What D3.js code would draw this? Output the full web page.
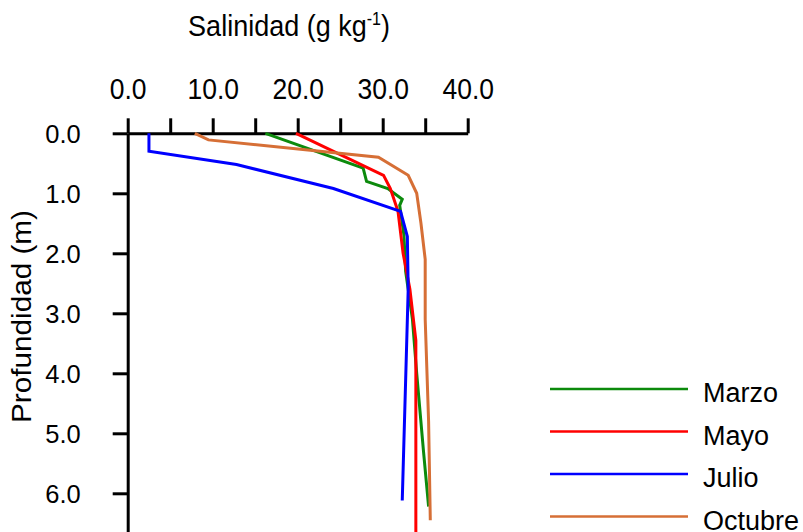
<!DOCTYPE html>
<html>
<head>
<meta charset="utf-8">
<script src="https://cdn.jsdelivr.net/npm/d3@7"></script>
<style>
  html, body { margin: 0; padding: 0; background: #fff; }
  svg { display: block; }
  text { font-family: "Liberation Sans", Arial, sans-serif; fill: #000; }
</style>
</head>
<body>
<svg id="chart" width="803" height="532"></svg>
<script>
// Salinity profiles by month
const months = ["Marzo", "Mayo", "Julio", "Octubre"];
const colors = ["#0c8a0c", "#ff0000", "#0000ff", "#d66f36"];

const marzoDepth = [0, 0.58, 0.8, 0.92, 1.1, 1.2, 1.7, 2.3, 3.1, 4.0, 5.3, 6.22];
const marzoSal   = [16.2, 27.7, 28.1, 30.6, 32.3, 32.0, 32.5, 32.7, 33.5, 34.0, 34.8, 35.4];

const mayoDepth = [0, 0.7, 0.92, 1.3, 2.0, 2.6, 3.45, 7.0];
const mayoSal   = [19.8, 30.1, 30.9, 31.8, 32.4, 33.2, 33.9, 33.9];

const julioDepth = [0, 0.3, 0.52, 0.92, 1.3, 1.72, 2.6, 6.12];
const julioSal   = [2.5, 2.5, 12.8, 24.2, 32.1, 32.9, 33.0, 32.3];

const octubreDepth = [0, 0.11, 0.4, 0.7, 1.0, 1.5, 2.1, 3.1, 4.8, 6.45];
const octubreSal   = [7.9, 9.5, 29.5, 33.0, 34.0, 34.5, 35.0, 35.0, 35.4, 35.6];

const salTicks = [0, 5, 10, 15, 20, 25, 30, 35, 40];
const depthTicks = [0, 1, 2, 3, 4, 5, 6];

const profiles = [
  [marzoDepth, marzoSal],
  [mayoDepth, mayoSal],
  [julioDepth, julioSal],
  [octubreDepth, octubreSal]
].map(([dep, sal], i) => ({
  name: months[i],
  color: colors[i],
  points: dep.map((d, j) => ({ depth: d, sal: sal[j] }))
}));

const svg = d3.select("#chart");

const x = d3.scaleLinear().domain([0, 40]).range([127.7, 467.7]);
const y = d3.scaleLinear().domain([0, 7]).range([133.3, 553.3]);

const fmt = d3.format(".1f");
const tallText = 1.1; // vertical stretch of the condensed lettering

// Salinity axis along the top
const xAxis = svg.append("g")
  .attr("transform", `translate(0,${y(0)})`)
  .call(d3.axisTop(x)
    .tickValues(salTicks)
    .tickSizeInner(15)
    .tickSizeOuter(0)
    .tickPadding(19)
    .tickFormat(d => d % 10 === 0 ? fmt(d) : ""));
xAxis.selectAll("text")
  .style("font-size", "26.5px")
  .attr("y", 0)
  .attr("transform", `translate(0,-34.5) scale(1,${tallText})`);

// Depth axis, increasing downward
const yAxis = svg.append("g")
  .attr("transform", `translate(${x(0)},0)`)
  .call(d3.axisLeft(y)
    .tickValues(depthTicks)
    .tickSizeInner(15)
    .tickSizeOuter(0)
    .tickPadding(32)
    .tickFormat(fmt));
yAxis.selectAll("text").style("font-size", "25.5px").attr("dy", "0.35em");

svg.selectAll(".domain, .tick line")
  .attr("stroke", "#000")
  .attr("stroke-width", 3);

// Profiles
const line = d3.line()
  .x(d => x(d.sal))
  .y(d => y(d.depth));

svg.append("g")
  .selectAll("path")
  .data(profiles)
  .join("path")
  .attr("d", d => line(d.points))
  .attr("fill", "none")
  .attr("stroke", d => d.color)
  .attr("stroke-width", 3)
  .attr("stroke-linejoin", "miter");

// Axis titles
const title = svg.append("text")
  .attr("transform", `translate(289,36) scale(1,${tallText})`)
  .attr("text-anchor", "middle")
  .style("font-size", "27px");
title.append("tspan").text("Salinidad (g kg");
title.append("tspan").attr("dy", -10).style("font-size", "16px").text("-1");
title.append("tspan").attr("dy", 10).text(")");

svg.append("text")
  .attr("transform", `translate(31,316.5) scale(1,${tallText}) rotate(-90)`)
  .attr("text-anchor", "middle")
  .style("font-size", "27px")
  .text("Profundidad (m)");

// Legend
const legend = svg.append("g")
  .selectAll("g")
  .data(profiles)
  .join("g")
  .attr("transform", (d, i) => `translate(550,${389 + i * 42.5})`);

legend.append("line")
  .attr("x1", 0)
  .attr("x2", 138)
  .attr("stroke", d => d.color)
  .attr("stroke-width", 2.5);

legend.append("text")
  .attr("x", 153)
  .attr("y", 13)
  .style("font-size", "27px")
  .text(d => d.name);
</script>
</body>
</html>
